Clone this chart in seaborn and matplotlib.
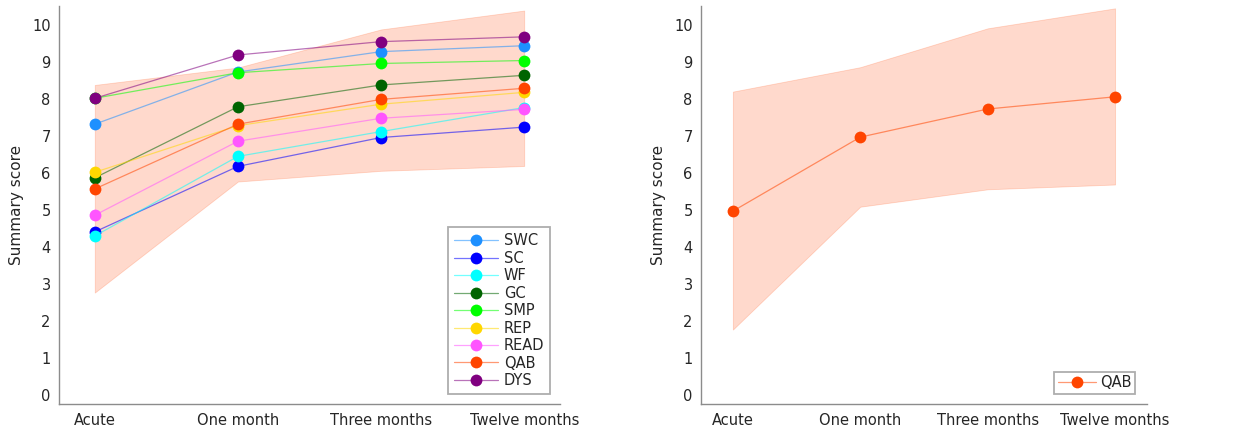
import numpy as np
import pandas as pd
import matplotlib
matplotlib.use("Agg")
import matplotlib.pyplot as plt
import matplotlib.colors as mcolors
import seaborn as sns

timepoints = ["Acute", "One month", "Three months", "Twelve months"]
measures = ["SWC", "SC", "WF", "GC", "SMP", "REP", "READ", "QAB", "DYS"]
colors = ["#1E90FF", "#0000FF", "#00FFFF", "#006400", "#00FF00",
          "#FFD700", "#FF55FF", "#FF4500", "#800080"]

swc = [7.32, 8.73, 9.28, 9.44]
sc = [4.41, 6.18, 6.96, 7.24]
wf = [4.30, 6.45, 7.12, 7.77]
gc = [5.87, 7.79, 8.38, 8.64]
smp = [8.02, 8.71, 8.96, 9.04]
rep = [6.02, 7.28, 7.86, 8.18]
read = [4.86, 6.86, 7.48, 7.72]
qab = [5.57, 7.32, 7.99, 8.29]
dys = [8.02, 9.19, 9.55, 9.68]

band_left_upper = [8.38, 8.85, 9.88, 10.39]
band_left_lower = [2.77, 5.77, 6.06, 6.19]

qab_mean = [4.97, 6.97, 7.73, 8.06]
band_right_upper = [8.20, 8.86, 9.91, 10.45]
band_right_lower = [1.77, 5.09, 5.56, 5.69]

series = [swc, sc, wf, gc, smp, rep, read, qab, dys]

sns.set_style("white")
plt.rcParams["font.family"] = ["DejaVu Sans"]

rows = []
for name, vals in zip(measures, series):
    for i, v in enumerate(vals):
        rows.append({"t": i, "score": v, "measure": name})
df = pd.DataFrame(rows)
df_qab = pd.DataFrame({"t": range(len(timepoints)), "score": qab_mean, "measure": "QAB"})

fig = plt.figure(figsize=(12.37, 4.32), dpi=100)
ax1 = fig.add_axes([0.0477, 0.064, 0.405, 0.921])
ax2 = fig.add_axes([0.5667, 0.064, 0.3605, 0.921])

xs = np.arange(len(timepoints))
band_col = "#FF4500"

def style_lines(ax, cols):
    for line, c in zip(ax.lines, cols):
        rgb = mcolors.to_rgb(c)
        line.set_color(rgb + (0.55,))
        line.set_markerfacecolor(rgb)
        line.set_markeredgecolor(rgb)

# Left panel
ax1.fill_between(xs, band_left_lower, band_left_upper, color=band_col, alpha=0.2,
                 edgecolor=band_col, linewidth=0.6, zorder=0)
sns.lineplot(data=df, x="t", y="score", hue="measure", hue_order=measures,
             palette=dict(zip(measures, colors)), marker="o", markersize=8.5,
             linewidth=0.9, markeredgewidth=0, ax=ax1, legend=False)
style_lines(ax1, colors)
handles1 = ax1.lines[:len(measures)]
leg1 = ax1.legend(handles1, measures, loc="lower right", fontsize=10.5, frameon=True,
                  fancybox=False, edgecolor="#999999", handlelength=3.0,
                  labelspacing=0.17, borderpad=0.4, handletextpad=0.4,
                  bbox_to_anchor=(0.995, 0.008))
leg1.get_frame().set_linewidth(1.3)

# Right panel
ax2.fill_between(xs, band_right_lower, band_right_upper, color=band_col, alpha=0.2,
                 edgecolor=band_col, linewidth=0.6, zorder=0)
sns.lineplot(data=df_qab, x="t", y="score", color="#FF4500", marker="o",
             markersize=8.5, linewidth=0.9, markeredgewidth=0, ax=ax2)
style_lines(ax2, ["#FF4500"])
leg2 = ax2.legend(ax2.lines[:1], ["QAB"], loc="lower right", fontsize=10.5, frameon=True,
                  fancybox=False, edgecolor="#999999", handlelength=2.6,
                  borderpad=0.25, handletextpad=0.3, bbox_to_anchor=(0.99, 0.008))
leg2.get_frame().set_linewidth(1.3)

for ax in (ax1, ax2):
    ax.set_xlim(-0.25, 3.25)
    ax.set_ylim(-0.25, 10.5)
    ax.set_xticks(xs)
    ax.set_xticklabels(timepoints)
    ax.set_yticks(range(0, 11))
    ax.set_xlabel("")
    ax.set_ylabel("Summary score", fontsize=11, color="#262626", labelpad=6)
    for s in ("top", "right"):
        ax.spines[s].set_visible(False)
    for s in ("left", "bottom"):
        ax.spines[s].set_color("#8c8c8c")
        ax.spines[s].set_linewidth(1.0)
    ax.tick_params(direction="in", length=4, width=0.8, color="#8c8c8c",
                   labelsize=10.5, labelcolor="#262626", pad=6)

fig.savefig("out.png", dpi=100)
